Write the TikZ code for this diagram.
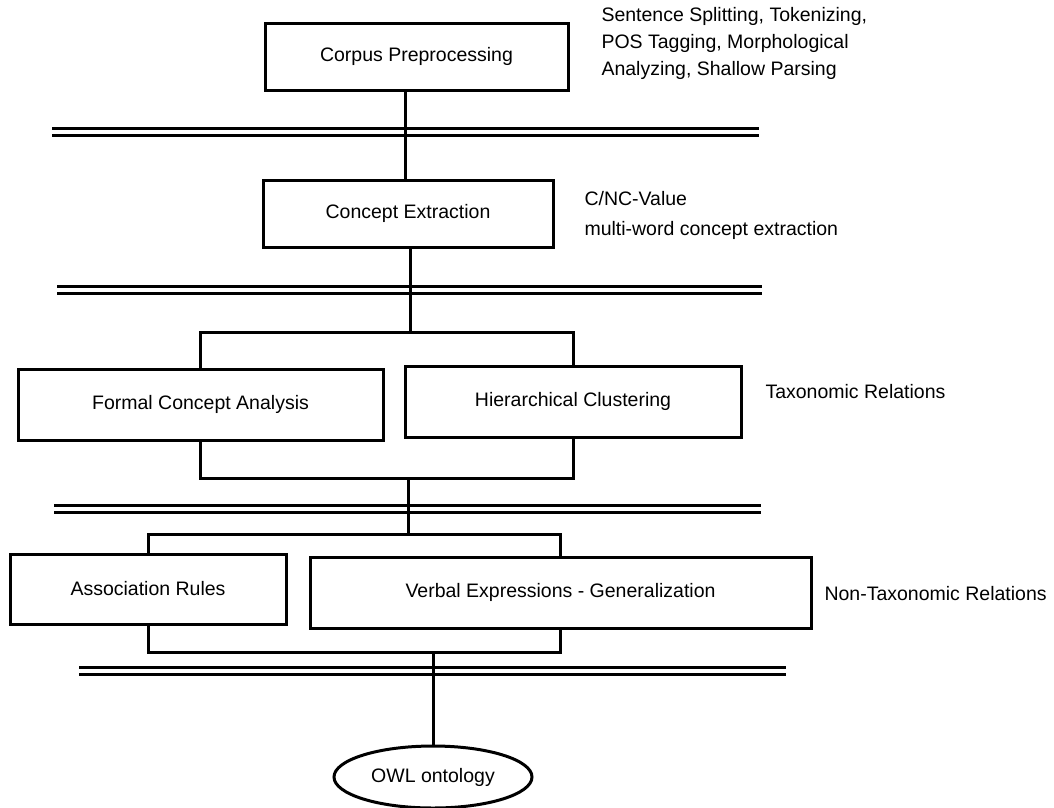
\documentclass[tikz,border=0pt]{standalone}
\usepackage{fontspec}
\setmainfont{Liberation Sans}
\usetikzlibrary{shapes.geometric}
\begin{document}
\begin{tikzpicture}[x=1pt, y=-1pt, line width=3pt,
  txt/.style={font=\fontsize{19.5}{27}\selectfont},
  stage/.style={draw, rectangle, inner sep=0pt, txt},
  note/.style={anchor=west, inner sep=0pt, align=left, txt},
  rail/.style={line width=3pt},
  link/.style={line width=3pt}]
\fill[white] (0,0) rectangle (1054,807);
\useasboundingbox (0,0) rectangle (1054,807);

% processing stages
\node[stage, minimum width=303pt, minimum height=67pt] (pre) at (416.5,56.5) {Corpus Preprocessing};
\node[stage, minimum width=290pt, minimum height=67pt] (ext) at (408,213.5) {Concept Extraction};
\node[stage, minimum width=365pt, minimum height=71pt] (fca) at (200.5,404.5) {Formal Concept Analysis};
\node[stage, minimum width=336pt, minimum height=71pt] (hc) at (573,401.5) {Hierarchical Clustering};
\node[stage, minimum width=276pt, minimum height=70pt] (ar) at (148,589) {Association Rules};
\node[stage, minimum width=501pt, minimum height=71pt] (ve) at (560.5,592.5) {Verbal Expressions - Generalization};
\node[draw, ellipse, fill=white, inner sep=0pt, minimum width=198pt, minimum height=62pt, txt] (owl) at (433,777) {OWL ontology};

% side notes
\node[note] (n1) at (600,43) {Sentence Splitting, Tokenizing,\\POS Tagging, Morphological\\Analyzing, Shallow Parsing};
\node[note, font=\fontsize{19.5}{30}\selectfont] (n2) at (583,215) {C/NC-Value\\multi-word concept extraction};
\node[note] (n3) at (764,392) {Taxonomic Relations};
\node[note] (n4) at (823,594) {Non-Taxonomic Relations};

% layer separators (double rails)
\foreach \ya/\yb/\xa/\xb in {128/135/52/759, 286/293/57/762, 505/512/54/761, 667/674/79/786}{
  \draw[rail] (\xa,\ya) -- (\xb,\ya);
  \draw[rail] (\xa,\yb) -- (\xb,\yb);
}

% junction points
\coordinate (j1) at (405,0);
\coordinate (j2) at (410,0);
\coordinate (b1) at (0,332);
\coordinate (j3) at (408,0);
\coordinate (b2) at (0,478);
\coordinate (b3) at (0,534);
\coordinate (b4) at (0,652);

% connectors
\draw[link] (pre.south -| j1) -- (ext.north -| j1);
\draw[link] (ext.south -| j2) -- (j2 |- b1);
\draw[link] (fca.north) -- (fca.north |- b1) -- (hc.north |- b1) -- (hc.north);
\draw[link] (fca.south) -- (fca.south |- b2) -- (hc.south |- b2) -- (hc.south);
\draw[link] (j3 |- b2) -- (j3 |- b3);
\draw[link] (ar.north) -- (ar.north |- b3) -- (ve.north |- b3) -- (ve.north);
\draw[link] (ar.south) -- (ar.south |- b4) -- (ve.south |- b4) -- (ve.south);
\draw[link] (owl.north |- b4) -- (owl.north);
\end{tikzpicture}
\end{document}
